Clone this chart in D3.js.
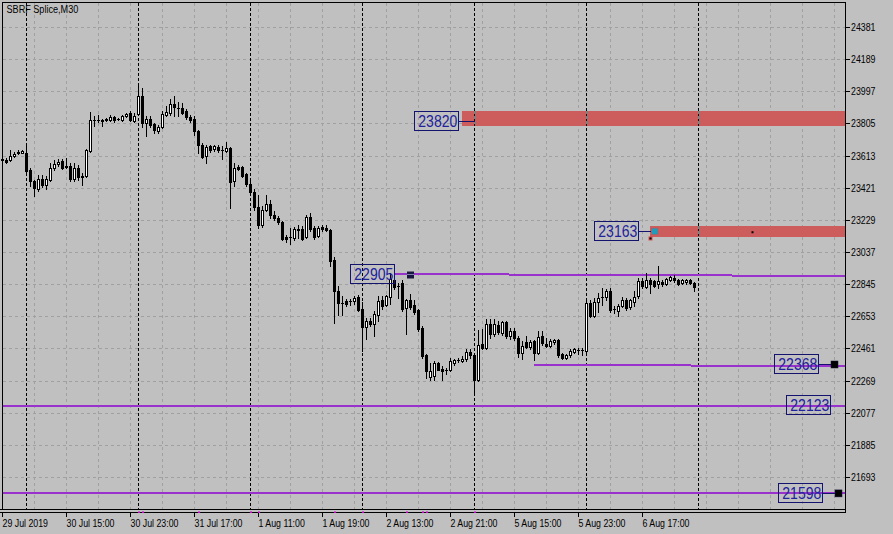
<!DOCTYPE html>
<html><head><meta charset="utf-8">
<script src="https://cdn.jsdelivr.net/npm/d3@7"></script>
<style>
html,body{margin:0;padding:0;background:#c0c0c0;}
svg{display:block;}
text{font-family:"Liberation Sans",Arial,sans-serif;}
</style></head><body>
<svg id="c" width="893" height="534"></svg>
<script>
const title = "SBRF Splice,M30";

// OHLC of M30 bars (bar index 0 = 29 Jul 2019 21:00)
const opens = [
23592,23589,23585,23609,23630,23629,23629,23529,23459,23414,
23475,23440,23469,23539,23565,23579,23544,23553,23474,23539,
23487,23489,23638,23828,23826,23824,23824,23828,23841,23832,
23828,23847,23868,23818,23862,23971,23808,23832,23804,23758,
23784,23857,23868,23923,23898,23897,23877,23844,23832,23762,
23677,23609,23668,23653,23665,23649,23638,23659,23459,23545,
23545,23505,23446,23394,23306,23201,23290,23326,23259,23241,
23215,23127,23125,23121,23171,23175,23127,23247,23181,23135,
23187,23181,23171,22992,22803,22735,22743,22743,22743,22769,
22697,22590,22623,22604,22663,22749,22723,22769,22868,22833,
22853,22703,22749,22723,22689,22584,22419,22292,22299,22371,
22339,22330,22331,22375,22391,22383,22395,22438,22419,22271,
22490,22465,22604,22550,22598,22554,22618,22534,22564,22524,
22431,22498,22471,22504,22435,22538,22490,22478,22502,22514,
22425,22405,22419,22438,22449,22451,22444,22733,22653,22737,
22767,22769,22807,22694,22683,22717,22753,22709,22737,22773,
22862,22829,22868,22862,22848,22856,22848,22868,22882,22872,
22852,22856,22868,22852];
const highs = [
23604,23601,23644,23632,23649,23649,23668,23541,23465,23499,
23499,23489,23569,23585,23593,23593,23601,23569,23569,23559,
23511,23653,23874,23851,23857,23832,23838,23854,23851,23838,
23857,23868,23877,23868,24037,24017,23847,23851,23808,23798,
23877,23907,23951,23971,23931,23927,23891,23857,23851,23768,
23689,23678,23678,23678,23678,23668,23696,23665,23569,23559,
23553,23511,23474,23414,23380,23310,23380,23350,23280,23255,
23221,23141,23181,23187,23201,23195,23260,23271,23191,23195,
23201,23201,23177,23010,22833,22777,22757,22757,22777,22783,
22737,22644,22644,22683,22773,22773,22783,22912,22892,22853,
22868,22759,22789,22753,22697,22594,22425,22375,22385,22379,
22355,22345,22405,22399,22401,22413,22455,22455,22425,22574,
22578,22634,22634,22634,22624,22624,22624,22584,22584,22534,
22504,22534,22514,22514,22564,22564,22524,22518,22518,22518,
22431,22429,22459,22465,22465,22465,22743,22753,22763,22793,
22823,22817,22823,22713,22729,22769,22763,22757,22803,22882,
22882,22912,22882,22868,22952,22868,22882,22892,22902,22876,
22876,22876,22876,22856];
const lows = [
23580,23571,23583,23605,23622,23627,23499,23434,23374,23404,
23428,23414,23463,23525,23553,23535,23539,23463,23459,23469,
23440,23483,23632,23788,23812,23792,23818,23818,23814,23824,
23818,23845,23818,23812,23855,23782,23728,23784,23748,23748,
23778,23851,23857,23851,23851,23863,23832,23814,23738,23629,
23601,23569,23632,23638,23632,23593,23636,23300,23429,23525,
23487,23434,23386,23290,23181,23187,23284,23241,23226,23207,
23107,23095,23087,23111,23121,23107,23123,23165,23115,23127,
23161,23161,22956,22614,22663,22663,22713,22723,22729,22687,
22444,22518,22594,22538,22624,22697,22713,22729,22817,22763,
22687,22550,22699,22669,22564,22405,22286,22271,22275,22331,
22275,22311,22329,22365,22381,22377,22385,22405,22186,22264,
22459,22455,22524,22538,22550,22544,22524,22518,22510,22411,
22399,22461,22459,22391,22425,22484,22470,22470,22490,22411,
22399,22399,22411,22431,22425,22419,22438,22649,22646,22677,
22723,22753,22677,22673,22653,22709,22693,22697,22717,22765,
22823,22823,22793,22829,22823,22833,22837,22862,22856,22837,
22843,22848,22844,22803];
const closes = [
23589,23577,23613,23625,23632,23643,23519,23459,23420,23474,
23440,23474,23539,23565,23573,23539,23548,23475,23539,23483,
23489,23644,23828,23824,23828,23822,23834,23844,23824,23832,
23847,23862,23824,23851,23971,23808,23832,23798,23764,23784,
23862,23871,23923,23903,23897,23868,23844,23828,23758,23677,
23605,23662,23649,23668,23644,23647,23659,23453,23539,23533,
23493,23446,23394,23306,23201,23290,23326,23259,23241,23215,
23115,23115,23127,23175,23172,23115,23247,23175,23127,23181,
23175,23167,22982,22803,22733,22733,22729,22745,22763,22693,
22590,22623,22604,22669,22743,22713,22777,22877,22829,22832,
22697,22749,22709,22677,22578,22415,22325,22325,22375,22335,
22325,22331,22385,22391,22393,22399,22438,22419,22271,22484,
22465,22604,22550,22604,22558,22618,22534,22564,22524,22431,
22478,22471,22498,22431,22530,22494,22474,22504,22514,22419,
22405,22419,22444,22459,22451,22453,22733,22653,22737,22763,
22769,22803,22693,22696,22717,22749,22703,22749,22769,22862,
22832,22868,22848,22832,22862,22843,22877,22886,22868,22848,
22868,22872,22852,22829];

// axis ticks
const priceTicks = [24381,24189,23997,23805,23613,23421,23229,23037,22845,22653,22461,22269,22077,21885,21693];
const timeTickBars = [0,16,32,48,64,80,96,112,128,144,160];
const timeTickLabels = ["29 Jul 2019","30 Jul 15:00","30 Jul 23:00","31 Jul 17:00","1 Aug 11:00","1 Aug 19:00","2 Aug 13:00","2 Aug 21:00","5 Aug 15:00","5 Aug 23:00","6 Aug 17:00"];
const daySeparatorBars = [6,34,62,90,118,146,174];
const eventBars = [34,35,49,62,64,83,90,101,105,106,118];

// annotation objects (time as bar index, price)
const zones = [
  {fromBar:115, top:23882, bottom:23793},
  {fromBar:162, top:23195, bottom:23131}
];
const trendLines = [
  {b1:98,  p1:22907, b2:210.6, p2:22896},
  {b1:133, p1:22366, b2:210.6, p2:22360},
  {b1:0,   p1:22123, b2:210.6, p2:22123},
  {b1:0,   p1:21598, b2:210.6, p2:21598}
];
const priceLabels = [
  {text:"23820", price:23820, boxBar:114, connTo:118},
  {text:"23163", price:23163, boxBar:159, connTo:162},
  {text:"22905", price:22905, boxBar:98,  connTo:null},
  {text:"22368", price:22368, boxBar:204, connTo:208},
  {text:"22123", price:22123, boxBar:207, connTo:null},
  {text:"21598", price:21598, boxBar:205, connTo:209}
];
const blackSquares = [{bar:208, price:22368},{bar:209, price:21598}];

const W = 893, H = 534;
const svg = d3.select("#c");
const x = d3.scaleLinear().domain([0, 210.625]).range([2.5, 845]);
const y = d3.scaleLinear().domain([21693, 24381]).range([477.5, 27.5]);
const snap = v => Math.floor(v) + 0.5;
const plotL = 2, plotR = 845, plotT = 2, plotB = 509;

function squeeze(sel, f){
  sel.each(function(){
    const w = this.getComputedTextLength();
    this.setAttribute("textLength", (w*f).toFixed(2));
    this.setAttribute("lengthAdjust","spacingAndGlyphs");
  });
}

svg.append("rect").attr("width",W).attr("height",H).attr("fill","#c0c0c0");

// grid
const grid = svg.append("g").attr("shape-rendering","crispEdges").attr("stroke","#a0a0a0").attr("stroke-dasharray","3,3");
grid.selectAll("line.h").data(priceTicks).join("line").attr("class","h")
  .attr("x1",plotL+1).attr("x2",plotR).attr("y1",d=>snap(y(d))).attr("y2",d=>snap(y(d)));
grid.selectAll("line.v").data(d3.range(0, 211, 8)).join("line").attr("class","v")
  .attr("x1",d=>x(d)).attr("x2",d=>x(d)).attr("y1",plotT+1).attr("y2",plotB);

// zones
svg.append("g").selectAll("rect").data(zones).join("rect")
  .attr("x",d=>x(d.fromBar)-0.5).attr("width",d=>plotR-(x(d.fromBar)-0.5))
  .attr("y",d=>Math.round(y(d.top))).attr("height",d=>Math.round(y(d.bottom))-Math.round(y(d.top)))
  .attr("fill","#cd5c5c");

// day separators
const sep = svg.append("g").attr("shape-rendering","crispEdges");
sep.selectAll("line").data(daySeparatorBars).join("line")
  .attr("x1",d=>x(d)).attr("x2",d=>x(d)).attr("y1",plotT+1).attr("y2",plotB)
  .attr("stroke","#000").attr("stroke-dasharray","3,2");
zones.forEach(z=>{
  daySeparatorBars.filter(b=>x(b)>x(z.fromBar)).forEach(b=>{
    sep.append("line").attr("x1",x(b)).attr("x2",x(b))
      .attr("y1",Math.round(y(z.top))).attr("y2",Math.round(y(z.bottom)))
      .attr("stroke","#32a3a3").attr("stroke-dasharray","3,2");
  });
});

// purple lines (2 px, pixel aligned)
svg.append("g").attr("shape-rendering","crispEdges").selectAll("line").data(trendLines).join("line")
  .attr("x1",d=>x(d.b1)-0.5).attr("x2",d=>Math.min(plotR,x(d.b2)))
  .attr("y1",d=>Math.round(y(d.p1))).attr("y2",d=>Math.round(y(d.p2)))
  .attr("stroke","#9932cc").attr("stroke-width",2);

// candles
const bars = d3.range(opens.length).map(i=>({i,o:opens[i],h:highs[i],l:lows[i],c:closes[i]}));
const cg = svg.append("g").attr("shape-rendering","crispEdges");
const cs = cg.selectAll("g").data(bars).join("g");
cs.append("line")
  .attr("x1",d=>x(d.i)).attr("x2",d=>x(d.i))
  .attr("y1",d=>snap(y(Math.max(d.h,d.o,d.c)))-0.5)
  .attr("y2",d=>snap(y(Math.min(d.l,d.o,d.c)))+0.5)
  .attr("stroke","#000");
cs.each(function(d){
  const g = d3.select(this);
  const top = snap(y(Math.max(d.o,d.c))), bot = snap(y(Math.min(d.o,d.c)));
  if (bot - top >= 1) {
    g.append("rect").attr("x",x(d.i)-1).attr("width",2)
      .attr("y",top).attr("height",bot-top)
      .attr("fill", d.c >= d.o ? "#ffffff" : "#000000").attr("stroke","#000");
  } else {
    g.append("line").attr("x1",x(d.i)-1.5).attr("x2",x(d.i)+1.5)
      .attr("y1",top).attr("y2",top).attr("stroke","#000");
  }
});

// annotation markers
const ann = svg.append("g");
// "=" marker on 22905 line
ann.append("rect").attr("x",x(102)-3.5).attr("y",Math.round(y(22905))-3.5).attr("width",7).attr("height",7)
  .attr("fill","#16163e");
ann.append("line").attr("x1",x(102)-3.5).attr("x2",x(102)+3.5)
  .attr("y1",snap(y(22905))).attr("y2",snap(y(22905))).attr("stroke","#7c7cae").attr("shape-rendering","crispEdges");
// zone B markers
ann.append("rect").attr("x",x(163)-3).attr("y",y(23163)-3.3).attr("width",6.5).attr("height",6.5)
  .attr("fill","#1f9bbb").attr("stroke","#b35c5c").attr("stroke-width",0.6);
ann.append("rect").attr("x",x(162)-1.5).attr("y",y(23131)+0.2).attr("width",3).attr("height",3)
  .attr("fill","#000").attr("stroke","#d05050").attr("stroke-width",1);
ann.append("rect").attr("x",x(187.5)-1).attr("y",y(23158)-1).attr("width",2).attr("height",2).attr("fill","#000");

// connectors
priceLabels.filter(d=>d.connTo!==null).forEach(d=>{
  ann.append("line").attr("x1",x(d.boxBar)).attr("x2",x(d.connTo))
    .attr("y1",snap(y(d.price))).attr("y2",snap(y(d.price)))
    .attr("stroke","#14146e").attr("shape-rendering","crispEdges");
});
ann.selectAll("rect.sq").data(blackSquares).join("rect").attr("class","sq")
  .attr("x",d=>x(d.bar)-3.5).attr("y",d=>y(d.price)-3.5).attr("width",7).attr("height",7)
  .attr("fill","#000").attr("stroke","#14143a").attr("stroke-width",0.5);

// price label boxes
const pl = ann.selectAll("g.pl").data(priceLabels).join("g").attr("class","pl");
pl.append("rect")
  .attr("x",d=>x(d.boxBar)-44).attr("width",44)
  .attr("y",d=>snap(y(d.price)-10.2)).attr("height",19)
  .attr("fill","none").attr("stroke","#14146e").attr("shape-rendering","crispEdges");
pl.append("text")
  .attr("x",d=>x(d.boxBar)-40.2).attr("y",d=>snap(y(d.price)-10.2)+15.8)
  .attr("font-size",17).attr("fill","#22229c").text(d=>d.text)
  .attr("textLength",39).attr("lengthAdjust","spacingAndGlyphs");

// frame
const fr = svg.append("g").attr("shape-rendering","crispEdges").attr("stroke","#000");
fr.append("line").attr("x1",plotL).attr("x2",plotR+1).attr("y1",plotT+0.5).attr("y2",plotT+0.5);
fr.append("line").attr("x1",plotL+0.5).attr("x2",plotL+0.5).attr("y1",plotT).attr("y2",plotB+1);
fr.append("line").attr("x1",plotR+0.5).attr("x2",plotR+0.5).attr("y1",plotT).attr("y2",513);
fr.append("line").attr("x1",0).attr("x2",plotR+1).attr("y1",plotB+0.5).attr("y2",plotB+0.5);
fr.append("line").attr("x1",0).attr("x2",plotR+1).attr("y1",512.5).attr("y2",512.5);

// event markers
svg.append("g").selectAll("rect").data(eventBars).join("rect")
  .attr("x",d=>x(d)-0.5).attr("y",511.5).attr("width",2).attr("height",1.5).attr("fill","#cc00cc");

// right axis
const ra = svg.append("g");
ra.selectAll("line").data(priceTicks).join("line")
  .attr("x1",plotR+1).attr("x2",plotR+5).attr("y1",d=>snap(y(d))).attr("y2",d=>snap(y(d)))
  .attr("stroke","#000").attr("shape-rendering","crispEdges");
ra.selectAll("text").data(priceTicks).join("text")
  .attr("x",plotR+6).attr("y",d=>snap(y(d))+3.6).attr("font-size",10).attr("fill","#000")
  .text(d=>d).call(squeeze,0.88);

// bottom axis
const ba = svg.append("g");
ba.selectAll("line").data(timeTickBars).join("line")
  .attr("x1",d=>x(d)).attr("x2",d=>x(d)).attr("y1",513).attr("y2",517)
  .attr("stroke","#000").attr("shape-rendering","crispEdges");
ba.selectAll("text").data(timeTickBars).join("text")
  .attr("x",d=>x(d)).attr("y",526.5).attr("font-size",10).attr("fill","#000")
  .text((d,i)=>timeTickLabels[i]).call(squeeze,0.88);

// title
svg.append("text").attr("x",6.5).attr("y",13.4).attr("font-size",10).attr("fill","#000")
  .text(title).call(squeeze,0.91);
</script>
</body></html>
